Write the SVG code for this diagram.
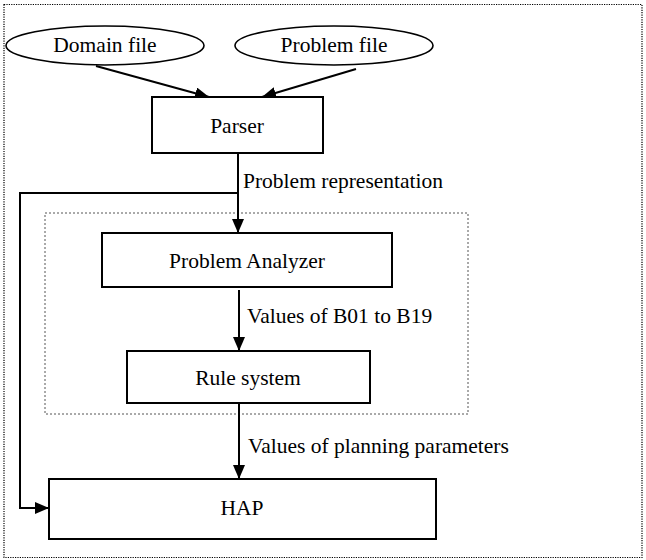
<svg xmlns="http://www.w3.org/2000/svg" width="646" height="560" viewBox="0 0 646 560" font-family="Liberation Serif, Times New Roman, DejaVu Serif, serif">
<style>
.box{fill:#fff;stroke:#000;stroke-width:2}
.ell{fill:#fff;stroke:#000;stroke-width:1.6}
.t{font-family:'Liberation Serif','Times New Roman','DejaVu Serif',serif;font-size:21.5px;fill:#000}
.c{text-anchor:middle}
.ln{fill:none;stroke:#000;stroke-width:2}
</style>
<defs>
<marker id="ah" markerUnits="userSpaceOnUse" markerWidth="15" markerHeight="12" refX="14" refY="6" orient="auto">
<path d="M0,0 L14,6 L0,12 z" fill="#000"/>
</marker>
</defs>
<rect x="4" y="4.5" width="638" height="553" fill="none" stroke="#000" stroke-width="1.2" stroke-dasharray="1.2,1.2"/>
<rect x="45" y="213" width="423" height="201" fill="none" stroke="#555" stroke-width="1" stroke-dasharray="2,2"/>
<g id="connectors">
<line class="ln" x1="96" y1="66" x2="209" y2="97" marker-end="url(#ah)"/>
<line class="ln" x1="356" y1="69" x2="262" y2="97" marker-end="url(#ah)"/>
<line class="ln" x1="238" y1="153" x2="238" y2="233" marker-end="url(#ah)"/>
<path class="ln" d="M238,193 L20,193 L20,508 L49,508" marker-end="url(#ah)"/>
<line class="ln" x1="239" y1="290" x2="239" y2="351" marker-end="url(#ah)"/>
<line class="ln" x1="239" y1="403" x2="239" y2="479" marker-end="url(#ah)"/>
<text class="t" x="243" y="188">Problem representation</text>
<text class="t" x="247" y="323">Values of B01 to B19</text>
<text class="t" x="248" y="453">Values of planning parameters</text>
</g>
<g id="domain">
<ellipse class="ell" cx="105" cy="45.5" rx="99" ry="19.5"/>
<text class="t c" x="105" y="52">Domain file</text>
</g>
<g id="problem">
<ellipse class="ell" cx="334" cy="45.5" rx="99" ry="19.5"/>
<text class="t c" x="334" y="52">Problem file</text>
</g>
<g id="parser">
<rect class="box" x="152" y="97" width="171" height="56"/>
<text class="t c" x="237" y="133">Parser</text>
</g>
<g id="analyzer">
<rect class="box" x="102" y="233" width="290" height="54"/>
<text class="t c" x="247" y="268">Problem Analyzer</text>
</g>
<g id="rules">
<rect class="box" x="127" y="351" width="243" height="52"/>
<text class="t c" x="248" y="385">Rule system</text>
</g>
<g id="hap">
<rect class="box" x="49" y="479" width="387" height="60"/>
<text class="t c" x="242" y="515">HAP</text>
</g>
</svg>
